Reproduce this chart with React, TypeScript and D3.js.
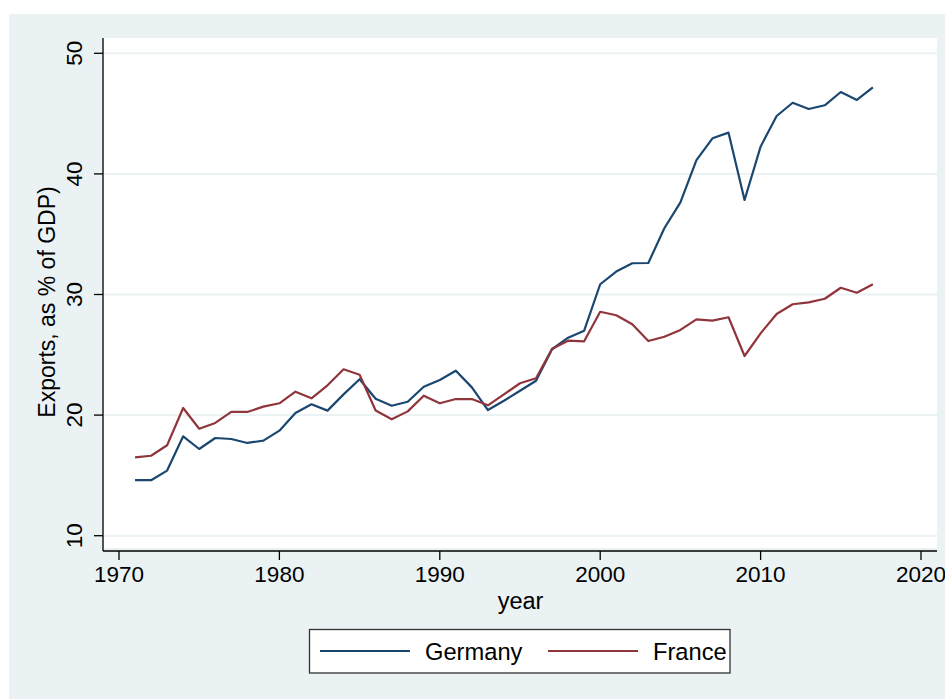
import React from 'react';
import * as d3 from 'd3';

const years = [
  1971, 1972, 1973, 1974, 1975, 1976, 1977, 1978, 1979, 1980,
  1981, 1982, 1983, 1984, 1985, 1986, 1987, 1988, 1989, 1990,
  1991, 1992, 1993, 1994, 1995, 1996, 1997, 1998, 1999, 2000,
  2001, 2002, 2003, 2004, 2005, 2006, 2007, 2008, 2009, 2010,
  2011, 2012, 2013, 2014, 2015, 2016, 2017
];
const germany = [
  14.6, 14.6, 15.4, 18.24, 17.19, 18.1, 18.02, 17.69, 17.88, 18.71,
  20.17, 20.9, 20.37, 21.72, 22.97, 21.35, 20.78, 21.11, 22.35, 22.91,
  23.68, 22.3, 20.42, 21.19, 22.02, 22.85, 25.46, 26.42, 27.0, 30.85,
  31.9, 32.59, 32.61, 35.49, 37.64, 41.15, 42.95, 43.42, 37.84, 42.26,
  44.8, 45.9, 45.38, 45.69, 46.79, 46.13, 47.18
];
const france = [
  16.5, 16.63, 17.5, 20.59, 18.87, 19.35, 20.26, 20.26, 20.7, 20.98,
  21.94, 21.39, 22.47, 23.8, 23.35, 20.38, 19.65, 20.31, 21.61, 20.98,
  21.33, 21.33, 20.81, 21.72, 22.64, 23.05, 25.5, 26.17, 26.12, 28.57,
  28.28, 27.53, 26.14, 26.5, 27.06, 27.94, 27.83, 28.11, 24.9, 26.78,
  28.38, 29.19, 29.35, 29.65, 30.56, 30.15, 30.85
];
const xTicks = [1970, 1980, 1990, 2000, 2010, 2020];
const yTicks = [10, 20, 30, 40, 50];

const seriesNames = ['Germany', 'France'];
const seriesColors = ['#1a476f', '#90353b'];

const font = '"Liberation Sans", Arial, Helvetica, sans-serif';

const App = () => {
  const plot = { left: 104, right: 937, top: 38, bottom: 548 };
  const axisX = 103;
  const axisY = 551;

  const x = d3.scaleLinear().domain([1970, 2020]).range([119, 921]);
  const y = d3.scaleLinear().domain([10, 50]).range([535.7, 53.3]);

  const line = d3.line<[number, number]>()
    .x(d => x(d[0]))
    .y(d => y(d[1]));

  const series = [germany, france].map(vals => years.map((yr, i) => [yr, vals[i]] as [number, number]));

  return (
    <svg width={945} height={699} style={{ position: 'absolute', left: 0, top: 0 }} fontFamily={font}>
      <rect x={9} y={14} width={936} height={685} fill="#eaf2f3" />
      <rect x={plot.left} y={plot.top} width={plot.right - plot.left} height={plot.bottom - plot.top} fill="#fff" />

      {/* gridlines */}
      {yTicks.map(t => (
        <line key={'g' + t} x1={plot.left} x2={plot.right} y1={y(t)} y2={y(t)} stroke="#eaf2f3" strokeWidth={2} />
      ))}

      {/* series */}
      {series.map((s, i) => (
        <path key={seriesNames[i]} d={line(s) || ''} fill="none" stroke={seriesColors[i]} strokeWidth={2.2} strokeLinejoin="round" />
      ))}

      {/* y axis */}
      <line x1={axisX} x2={axisX} y1={plot.top} y2={axisY} stroke="#000" strokeWidth={1.3} />
      {yTicks.map(t => (
        <g key={'y' + t}>
          <line x1={94} x2={axisX} y1={y(t)} y2={y(t)} stroke="#000" strokeWidth={1.3} />
          <text transform={`translate(82,${y(t)}) rotate(-90)`} textAnchor="middle" fontSize={22.5} fill="#000">{t}</text>
        </g>
      ))}
      <text transform="translate(55,302) rotate(-90)" textAnchor="middle" fontSize={23} fill="#000">Exports, as % of GDP)</text>

      {/* x axis */}
      <line x1={axisX} x2={plot.right} y1={axisY} y2={axisY} stroke="#000" strokeWidth={1.3} />
      {xTicks.map(t => (
        <g key={'x' + t}>
          <line x1={x(t)} x2={x(t)} y1={axisY} y2={560} stroke="#000" strokeWidth={1.3} />
          <text x={x(t)} y={582} textAnchor="middle" fontSize={22.5} fill="#000">{t}</text>
        </g>
      ))}
      <text x={(plot.left + plot.right) / 2} y={609} textAnchor="middle" fontSize={23.5} fill="#000">year</text>

      {/* legend */}
      <rect x={309.5} y={629.5} width={420.5} height={43.5} fill="#fff" stroke="#333" strokeWidth={1.3} />
      {seriesNames.map((name, i) => (
        <g key={'l' + name} transform={`translate(${320 + i * 228},0)`}>
          <line x1={0} x2={90} y1={651} y2={651} stroke={seriesColors[i]} strokeWidth={2} />
          <text x={105} y={660} fontSize={23.7} fill="#000">{name}</text>
        </g>
      ))}
    </svg>
  );
};

export default App;
